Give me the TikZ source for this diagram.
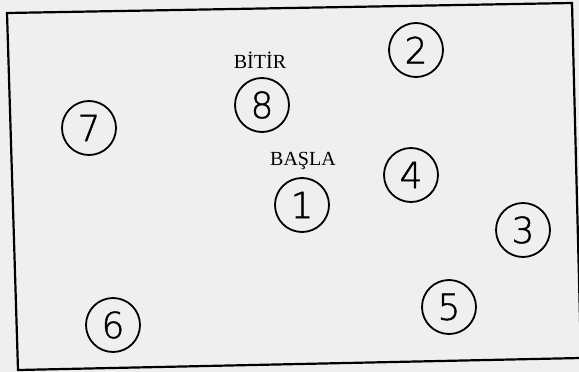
\documentclass[tikz,border=0pt]{standalone}
\usepackage{fontspec}
\IfFontExistsTF{DejaVu Sans ExtraLight}{\newfontfamily\numfont{DejaVu Sans ExtraLight}[BoldFont={DejaVu Sans ExtraLight},BoldFeatures={FakeBold=1.2}]}{\newfontfamily\numfont{DejaVu Sans}}
\newfontfamily\labfont{Liberation Serif}
\definecolor{paper}{HTML}{EFEFEF}
\begin{document}
\begin{tikzpicture}[x=1pt,y=-1pt,
  num/.style={circle,draw,line width=1.8pt,minimum size=54pt,inner sep=0pt,
    font=\numfont\bfseries\fontsize{36}{36}\selectfont},
  lab/.style={inner sep=0pt,font=\labfont\fontsize{20}{20}\selectfont}]
\fill[paper] (0,0) rectangle (579,372);
\useasboundingbox (0,0) rectangle (579,372);
\begin{scope}
  \clip (0,0) rectangle (579,372);
  \draw[line width=2.2pt,line join=miter] (7,13) -- (572,3) -- (581,358) -- (18,370) -- cycle;
\end{scope}
\node[num] (c1) at (302,205) {1};
\node[num] (c2) at (416,50) {2};
\node[num] (c3) at (523,230) {3};
\node[num] (c4) at (411,175) {4};
\node[num] (c5) at (449,307) {5};
\node[num] (c6) at (113,325) {6};
\node[num] (c7) at (89,128) {7};
\node[num] (c8) at (262,105) {8};
\node[lab] (bitir) at (260,60) {BİTİR};
\node[lab] (basla) at (303,161) {BAŞLA};
\end{tikzpicture}
\end{document}
